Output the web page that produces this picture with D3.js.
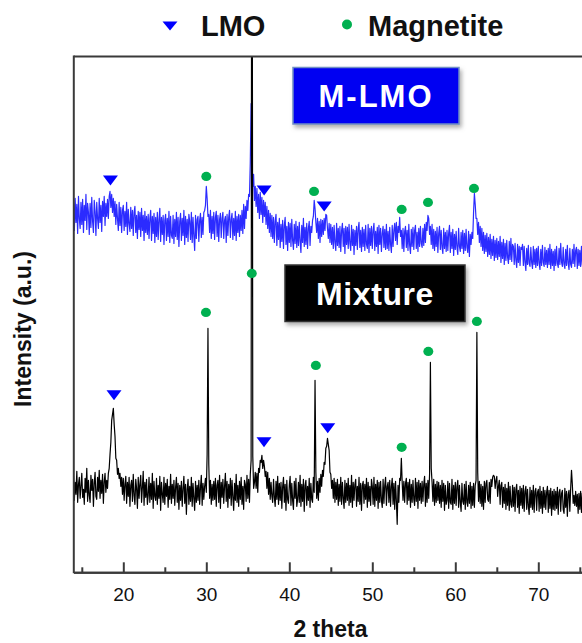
<!DOCTYPE html>
<html>
<head>
<meta charset="utf-8">
<script src="https://cdn.jsdelivr.net/npm/d3@7"></script>
<style>
  html, body { margin: 0; padding: 0; background: #fff; }
  svg { display: block; font-family: Arial, "Liberation Sans", sans-serif; }
</style>
</head>
<body>
<svg id="chart" width="582" height="643"></svg>
<script>
// XRD patterns, 2θ from 14° in 0.1° steps, intensity in a.u.
const START = 14;
const STEP = 0.1;

// Mixture pattern (one row per degree)
const mixture = [
  96, 72, 90, 78, 101, 70, 88, 95, 74, 86,
  99, 75, 83, 68, 94, 80, 104, 71, 92, 77,
  70, 97, 82, 93, 66, 89, 100, 76, 73, 95,
  81, 102, 74, 92, 79, 98, 69, 90, 99, 80,
  92, 84, 99, 104, 118, 130, 152, 158, 164, 148,
  136, 114, 112, 98, 104, 94, 99, 86, 95, 78,
  94, 72, 88, 96, 69, 90, 76, 95, 66, 87,
  92, 71, 98, 77, 68, 93, 84, 64, 95, 74,
  88, 97, 70, 85, 101, 67, 90, 75, 93, 68,
  77, 95, 70, 89, 73, 99, 64, 91, 76, 72,
  94, 68, 87, 74, 96, 62, 90, 78, 70, 95,
  68, 89, 76, 93, 65, 86, 73, 98, 69, 88,
  74, 92, 67, 85, 95, 70, 89, 63, 87, 72,
  91, 66, 84, 96, 69, 88, 58, 83, 93, 68,
  86, 71, 95, 66, 89, 74, 62, 91, 70, 87,
  72, 92, 68, 85, 97, 67, 89, 73, 86, 94,
  80, 118, 244, 108, 74, 92, 68, 88, 72, 91,
  73, 94, 66, 87, 92, 70, 97, 64, 90, 75,
  93, 69, 86, 99, 71, 91, 65, 88, 74, 94,
  67, 92, 75, 62, 89, 72, 98, 70, 87, 66,
  91, 73, 95, 68, 86, 63, 92, 88, 71, 97,
  74, 93, 70, 98, 112, 1000, 116, 84, 90, 100,
  84, 99, 80, 104, 100, 112, 110, 117, 104, 112,
  106, 96, 101, 84, 100, 78, 94, 73, 90, 76,
  70, 93, 75, 66, 91, 73, 96, 68, 89, 72,
  90, 64, 86, 95, 70, 88, 62, 92, 73, 69,
  87, 96, 67, 89, 72, 63, 91, 74, 94, 66,
  73, 90, 70, 97, 66, 88, 71, 93, 61, 87,
  92, 67, 86, 72, 94, 65, 89, 73, 70, 95,
  80, 192, 100, 74, 91, 72, 94, 80, 98, 86,
  102, 96, 110, 108, 124, 126, 134, 128, 122, 100,
  98, 84, 92, 74, 94, 70, 90, 73, 93, 67,
  88, 71, 95, 68, 90, 74, 64, 92, 70, 89,
  72, 94, 67, 87, 70, 97, 65, 90, 72, 88,
  93, 66, 86, 71, 95, 68, 89, 62, 87, 91,
  69, 88, 73, 94, 65, 90, 71, 86, 67, 93,
  86, 68, 95, 66, 88, 72, 92, 64, 90, 70,
  91, 72, 65, 93, 69, 87, 95, 67, 86, 90,
  70, 92, 66, 86, 94, 68, 89, 63, 91, 71,
  48, 87, 70, 94, 92, 114, 90, 72, 91, 70,
  89, 94, 68, 90, 72, 93, 65, 88, 70, 92,
  73, 67, 94, 71, 90, 64, 92, 72, 89, 69,
  91, 71, 88, 96, 66, 89, 70, 92, 74, 98,
  210, 104, 90, 71, 93, 67, 88, 70, 91, 72,
  90, 69, 87, 65, 92, 71, 89, 62, 87, 68,
  72, 91, 64, 89, 70, 68, 93, 63, 87, 69,
  90, 67, 86, 92, 65, 87, 70, 61, 89, 71,
  68, 88, 63, 91, 70, 66, 87, 69, 90, 64,
  86, 67, 89, 65, 87, 92, 240, 100, 71, 91,
  69, 88, 66, 86, 63, 91, 70, 89, 92, 73,
  71, 90, 69, 93, 86, 95, 97, 96, 84, 92,
  96, 76, 86, 92, 68, 87, 90, 65, 85, 69,
  88, 63, 84, 67, 90, 62, 86, 68, 65, 87,
  66, 85, 61, 83, 88, 65, 82, 59, 86, 67,
  84, 64, 87, 61, 81, 86, 63, 83, 66, 58,
  85, 65, 82, 63, 87, 60, 81, 84, 62, 80,
  83, 61, 86, 64, 81, 59, 85, 65, 82, 63,
  80, 86, 60, 82, 64, 84, 57, 81, 63, 83,
  62, 81, 64, 85, 58, 80, 83, 61, 79, 82,
  63, 59, 84, 65, 81, 56, 78, 82, 61, 84,
  102, 88, 69, 77, 67, 81, 66, 78, 59, 79,
  63, 81, 60, 79, 62, 82, 61, 78, 80, 59,
  77
];

// M-LMO pattern (raw, drawn with a vertical offset)
const mlmo = [
  101, 72, 104, 80, 98, 69, 106, 84, 74, 100,
  78, 103, 70, 97, 82, 108, 73, 99, 90, 68,
  99, 75, 105, 81, 70, 102, 91, 67, 100, 84,
  74, 104, 80, 97, 71, 101, 86, 106, 77, 99,
  86, 103, 84, 106, 111, 95, 108, 90, 104, 86,
  101, 78, 98, 84, 72, 100, 77, 95, 70, 92,
  97, 72, 91, 76, 100, 68, 93, 79, 71, 95,
  74, 92, 67, 90, 96, 70, 87, 64, 91, 73,
  90, 66, 94, 72, 87, 62, 91, 70, 86, 68,
  88, 64, 84, 92, 62, 86, 69, 89, 60, 85,
  66, 90, 63, 83, 94, 61, 85, 68, 87, 58,
  82, 88, 62, 84, 66, 91, 60, 86, 67, 64,
  87, 59, 83, 66, 90, 63, 85, 56, 81, 89,
  62, 84, 67, 92, 58, 86, 65, 83, 61, 88,
  81, 63, 90, 60, 85, 66, 52, 87, 64, 83,
  86, 61, 82, 89, 65, 85, 68, 90, 92, 97,
  116, 104, 86, 88, 70, 92, 64, 86, 69, 90,
  63, 85, 91, 66, 87, 61, 83, 89, 65, 84,
  90, 64, 82, 86, 60, 88, 67, 85, 92, 65,
  83, 89, 63, 84, 67, 91, 62, 86, 70, 88,
  66, 87, 72, 92, 69, 98, 74, 96, 84, 102,
  92, 108, 106, 140, 199, 150, 116, 128, 102, 116,
  96, 114, 90, 108, 84, 110, 88, 105, 80, 102,
  86, 100, 78, 96, 74, 92, 70, 89, 66, 87,
  64, 85, 60, 81, 88, 57, 80, 63, 84, 55,
  78, 61, 82, 54, 77, 85, 58, 76, 52, 80,
  60, 79, 56, 83, 62, 53, 78, 59, 81, 55,
  76, 57, 80, 61, 50, 77, 60, 84, 56, 75,
  58, 79, 54, 74, 81, 57, 76, 70, 82, 86,
  102, 94, 80, 70, 84, 64, 81, 60, 83, 66,
  82, 68, 84, 72, 88, 87, 74, 64, 79, 60,
  78, 58, 75, 54, 77, 60, 52, 79, 57, 74,
  55, 76, 51, 72, 79, 56, 74, 49, 76, 58,
  75, 54, 78, 59, 52, 77, 57, 73, 48, 72,
  57, 76, 53, 74, 80, 55, 72, 51, 75, 56,
  73, 52, 77, 58, 54, 78, 50, 74, 57, 76,
  54, 72, 79, 52, 71, 56, 75, 49, 77, 58,
  74, 51, 69, 76, 55, 73, 53, 78, 54, 71,
  52, 75, 58, 50, 77, 56, 72, 79, 62, 80,
  58, 76, 70, 85, 66, 72, 54, 74, 51, 71,
  76, 55, 72, 52, 78, 57, 49, 73, 56, 75,
  53, 72, 77, 54, 70, 51, 74, 56, 76, 59,
  55, 74, 57, 78, 60, 80, 72, 87, 84, 68,
  76, 58, 78, 54, 73, 52, 71, 56, 75, 50,
  69, 76, 53, 72, 55, 49, 74, 54, 70, 51,
  72, 52, 69, 77, 50, 70, 54, 73, 47, 68,
  53, 71, 55, 48, 74, 56, 51, 70, 54, 72,
  49, 69, 52, 73, 55, 50, 71, 46, 68, 58,
  70, 64, 90, 109, 98, 84, 84, 68, 80, 60,
  76, 56, 74, 52, 70, 49, 67, 51, 69, 46,
  65, 48, 68, 44, 63, 47, 66, 42, 62, 45,
  64, 43, 61, 46, 66, 40, 60, 44, 63, 38,
  59, 42, 62, 45, 39, 61, 43, 64, 41, 58,
  56, 38, 59, 42, 35, 58, 40, 56, 37, 55,
  53, 58, 37, 56, 40, 32, 54, 38, 57, 39,
  36, 55, 40, 34, 56, 38, 53, 35, 54, 37,
  56, 39, 33, 53, 37, 57, 40, 36, 55, 38,
  52, 35, 54, 38, 58, 34, 53, 37, 51, 32,
  53, 37, 56, 39, 35, 54, 38, 59, 40, 36,
  55, 38, 34, 53, 37, 57, 39, 33, 54, 38,
  35, 53, 39, 58, 36, 52, 55, 34, 53, 37,
  52, 36, 56, 38, 33, 53, 37, 54, 35, 51,
  38
];
const MLMO_OFFSET = 270;

// Reflection markers: 2θ and marker height (a.u.)
const lmoMLMO_2t = [18.45, 36.97, 44.2];
const lmoMLMO_I  = [122, 112, 96];
const magMLMO_2t = [30.0, 42.98, 53.54, 56.71, 62.25];
const magMLMO_I  = [126, 111, 93, 100, 114];
const lmoMix_2t  = [18.88, 36.95, 44.63];
const lmoMix_I   = [177, 130, 144];
const magMix_2t  = [29.96, 35.48, 43.2, 53.54, 56.75, 62.6];
const magMix_I   = [260, 299, 207, 125, 221, 251];

const xTicks = [20, 30, 40, 50, 60, 70];
const xMinorTicks = [15, 25, 35, 45, 55, 65, 75];
const legendItems = ["LMO", "Magnetite"];

const BLUE = "#0000ff";
const GREEN = "#00b050";

const svg = d3.select("#chart");
const plot = { left: 73.8, top: 56.5, bottom: 572.3 };

const x = d3.scaleLinear().domain([14, 76]).range([73.5, 588.1]);
const y = d3.scaleLinear().domain([0, 516]).range([plot.bottom, plot.top]);

const defs = svg.append("defs");
defs.append("clipPath").attr("id", "plotClip")
  .append("rect").attr("x", plot.left).attr("y", plot.top)
  .attr("width", 600).attr("height", plot.bottom - plot.top);
const shadow = defs.append("filter").attr("id", "shadow")
  .attr("x", "-10%").attr("y", "-10%").attr("width", "130%").attr("height", "140%");
shadow.append("feDropShadow").attr("dx", 2).attr("dy", 3)
  .attr("stdDeviation", 2).attr("flood-color", "#777").attr("flood-opacity", 0.6);

// Patterns
const plotArea = svg.append("g").attr("clip-path", "url(#plotClip)");
const lineFor = offset => d3.line()
  .x((d, i) => x(START + i * STEP))
  .y(d => y(d + offset));

plotArea.append("path").datum(mlmo)
  .attr("fill", "none").attr("stroke", "#1414ff").attr("stroke-opacity", 0.9)
  .attr("stroke-width", 1.2).attr("stroke-linejoin", "round")
  .attr("d", lineFor(MLMO_OFFSET));

plotArea.append("path").datum(mixture)
  .attr("fill", "none").attr("stroke", "#000").attr("stroke-width", 1.2)
  .attr("stroke-linejoin", "round")
  .attr("d", lineFor(0));

// Markers
function triangles(pos, vals, offset) {
  plotArea.append("g").selectAll("path").data(pos).join("path")
    .attr("d", "M-7.5,-5 L7.5,-5 L0,5 Z")
    .attr("transform", (d, i) => `translate(${x(d)},${y(vals[i] + offset)})`)
    .attr("fill", BLUE);
}
function dots(pos, vals, offset) {
  plotArea.append("g").selectAll("ellipse").data(pos).join("ellipse")
    .attr("cx", d => x(d))
    .attr("cy", (d, i) => y(vals[i] + offset))
    .attr("rx", 5).attr("ry", 4.6)
    .attr("fill", GREEN);
}
triangles(lmoMLMO_2t, lmoMLMO_I, MLMO_OFFSET);
dots(magMLMO_2t, magMLMO_I, MLMO_OFFSET);
triangles(lmoMix_2t, lmoMix_I, 0);
dots(magMix_2t, magMix_I, 0);

// Frame
const frameColor = "#3a3a3a";
svg.append("line").attr("x1", plot.left).attr("x2", 600)
  .attr("y1", plot.top).attr("y2", plot.top)
  .attr("stroke", frameColor).attr("stroke-width", 2);
svg.append("line").attr("x1", plot.left).attr("x2", plot.left)
  .attr("y1", plot.top - 1).attr("y2", plot.bottom + 1)
  .attr("stroke", frameColor).attr("stroke-width", 2);

// Bottom axis with inward ticks
const axisMajor = d3.axisBottom(x).tickValues(xTicks).tickSize(-10).tickSizeOuter(0).tickPadding(15);
const axisMinor = d3.axisBottom(x).tickValues(xMinorTicks).tickSize(-5).tickSizeOuter(0).tickFormat("");
const gMinor = svg.append("g").attr("transform", `translate(0,${plot.bottom})`).call(axisMinor);
const gMajor = svg.append("g").attr("transform", `translate(0,${plot.bottom})`).call(axisMajor);
[gMinor, gMajor].forEach(g => {
  g.select(".domain").attr("stroke", frameColor).attr("stroke-width", 2);
  g.selectAll(".tick line").attr("stroke", frameColor).attr("stroke-width", 2);
});
gMajor.selectAll(".tick text")
  .attr("font-size", 19).attr("fill", "#111")
  .attr("font-family", "Arial, 'Liberation Sans', sans-serif");

// Axis titles
svg.append("text").attr("x", 330.5).attr("y", 637)
  .attr("text-anchor", "middle").attr("font-size", 23).attr("font-weight", "bold")
  .attr("fill", "#111").text("2 theta");
svg.append("text")
  .attr("transform", "translate(31,329) rotate(-90)")
  .attr("text-anchor", "middle").attr("font-size", 23).attr("font-weight", "bold")
  .attr("fill", "#111").text("Intensity (a.u.)");

// Legend
const legend = svg.append("g");
legend.append("path").attr("d", "M-7.5,-4.5 L7.5,-4.5 L0,4.5 Z")
  .attr("transform", "translate(170,26)").attr("fill", BLUE);
legend.append("text").attr("x", 201).attr("y", 36)
  .attr("font-size", 29).attr("font-weight", "bold").attr("fill", "#111")
  .text(legendItems[0]);
legend.append("circle").attr("cx", 347).attr("cy", 24.5).attr("r", 5).attr("fill", GREEN);
legend.append("text").attr("x", 368).attr("y", 36)
  .attr("font-size", 29).attr("font-weight", "bold").attr("fill", "#111")
  .text(legendItems[1]);

// Sample label boxes
function labelBox(bx, by, bw, bh, fill, stroke, label, fontSize, baseline, spacing) {
  const g = svg.append("g");
  g.append("rect").attr("x", bx).attr("y", by).attr("width", bw).attr("height", bh)
    .attr("fill", fill).attr("stroke", stroke).attr("stroke-width", 1.5)
    .attr("filter", "url(#shadow)");
  g.append("text").attr("x", bx + bw / 2).attr("y", baseline)
    .attr("text-anchor", "middle").attr("font-size", fontSize).attr("font-weight", "bold")
    .attr("letter-spacing", spacing).attr("fill", "#fff").text(label);
}
labelBox(293, 67.5, 166, 56.5, "#0000f2", "#6f8fc4", "M-LMO", 31, 106.5, 2);
labelBox(285, 265, 180, 56.5, "#000", "#333", "Mixture", 32, 305, 0.6);
</script>
</body>
</html>
